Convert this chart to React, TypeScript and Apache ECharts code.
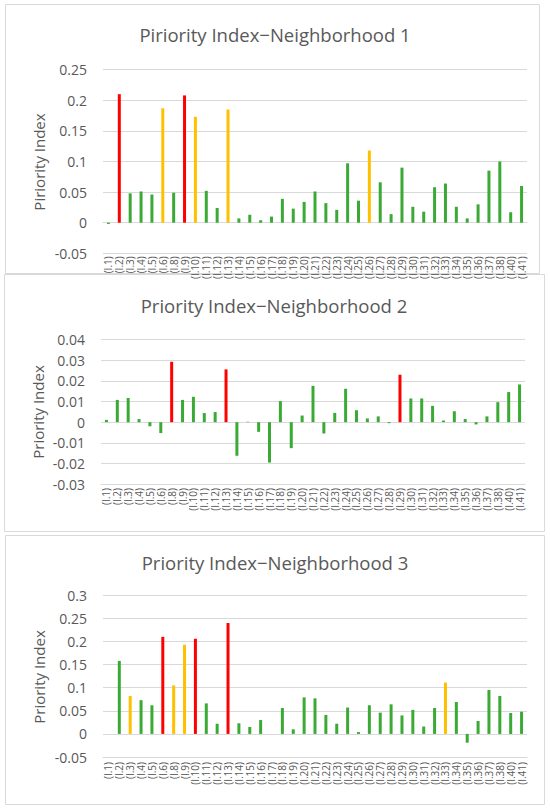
import React, { useEffect, useRef } from "react";
import * as echarts from "echarts";

const categories = [
  "(I.1)", "(I.2)", "(I.3)", "(I.4)", "(I.5)", "(I.6)", "(I.8)", "(I.9)", "(I.10)",
  "(I.11)", "(I.12)", "(I.13)", "(I.14)", "(I.15)", "(I.16)", "(I.17)", "(I.18)",
  "(I.19)", "(I.20)", "(I.21)", "(I.22)", "(I.23)", "(I.24)", "(I.25)", "(I.26)",
  "(I.27)", "(I.28)", "(I.29)", "(I.30)", "(I.31)", "(I.32)", "(I.33)", "(I.34)",
  "(I.35)", "(I.36)", "(I.37)", "(I.38)", "(I.40)", "(I.41)",
];

const values1 = [
  -0.002, 0.21, 0.048, 0.051, 0.046, 0.187, 0.049, 0.208, 0.173, 0.052, 0.024, 0.185,
  0.007, 0.013, 0.004, 0.01, 0.039, 0.023, 0.034, 0.051, 0.032, 0.021, 0.097, 0.036,
  0.118, 0.066, 0.014, 0.09, 0.026, 0.018, 0.058, 0.064, 0.026, 0.007, 0.03, 0.085,
  0.1, 0.017, 0.06,
];
const values2 = [
  0.0011, 0.0108, 0.0117, 0.0015, -0.002, -0.0053, 0.0293, 0.0108, 0.0123, 0.0044,
  0.0049, 0.0256, -0.0163, 0.0002, -0.0047, -0.0196, 0.0102, -0.0126, 0.0032, 0.0176,
  -0.0055, 0.0045, 0.0162, 0.0058, 0.0018, 0.0028, -0.0005, 0.023, 0.0115, 0.0115,
  0.0079, 0.0008, 0.0053, 0.0015, -0.0011, 0.0028, 0.0097, 0.0146, 0.0183,
];
const values3 = [
  0, 0.158, 0.082, 0.073, 0.062, 0.21, 0.105, 0.193, 0.206, 0.066, 0.022, 0.24, 0.023,
  0.015, 0.03, 0, 0.056, 0.01, 0.079, 0.077, 0.041, 0.022, 0.057, 0.004, 0.062, 0.046,
  0.064, 0.04, 0.052, 0.016, 0.056, 0.111, 0.069, -0.019, 0.028, 0.095, 0.082, 0.045,
  0.048,
];

const red1 = ["(I.2)", "(I.9)"];
const orange1 = ["(I.6)", "(I.10)", "(I.13)", "(I.26)"];
const red2 = ["(I.8)", "(I.13)", "(I.29)"];
const orange2: string[] = [];
const red3 = ["(I.6)", "(I.10)", "(I.13)"];
const orange3 = ["(I.3)", "(I.8)", "(I.9)", "(I.33)"];

const titles = [
  "Piriority Index\u2212Neighborhood 1",
  "Priority Index\u2212Neighborhood 2",
  "Priority Index\u2212Neighborhood 3",
];
const yNames = ["Piriority Index", "Priority Index", "Priority Index"];

const RED = "#FF0000";
const ORANGE = "#FFC000";
const GREEN = "#3AAA35";
const TEXT = "#595959";
const GRID = "#D9D9D9";
const FONT = "Open Sans";

function colored(values: number[], reds: string[], oranges: string[]) {
  return values.map((v, i) => {
    const c = categories[i];
    const color = reds.includes(c) ? RED : oranges.includes(c) ? ORANGE : GREEN;
    return { value: v, itemStyle: { color } };
  });
}

export default function App() {
  const ref = useRef<HTMLDivElement>(null);
  useEffect(() => {
    if (!ref.current) return;
    const chart = echarts.init(ref.current, undefined, { renderer: "svg" });

    const panels = [
      { grid: { left: 103, top: 69.7, width: 424, height: 183.6 }, min: -0.05, max: 0.25, interval: 0.05, onZero: true, margin: 3, title: [275, 34], yName: [39, 162], border: [5.5, 4.5, 534, 269] },
      { grid: { left: 101, top: 339.7, width: 424, height: 144.3 }, min: -0.03, max: 0.04, interval: 0.01, onZero: false, margin: 4, title: [274, 305], yName: [38, 412], border: [4.5, 274.5, 540, 257] },
      { grid: { left: 103, top: 595.3, width: 424, height: 161.7 }, min: -0.05, max: 0.3, interval: 0.05, onZero: false, margin: 5, title: [275, 562.5], yName: [39, 677], border: [5.5, 535.5, 539, 269] },
    ];
    const dataSets = [
      colored(values1, red1, orange1),
      colored(values2, red2, orange2),
      colored(values3, red3, orange3),
    ];

    const graphics: any[] = [];
    panels.forEach((p, i) => {
      graphics.push({
        type: "rect",
        shape: { x: p.border[0], y: p.border[1], width: p.border[2], height: p.border[3] },
        style: { fill: "none", stroke: GRID, lineWidth: 1 },
        silent: true,
        z: -1,
      });
      graphics.push({
        type: "text",
        x: p.title[0],
        y: p.title[1],
        style: {
          text: titles[i],
          fill: TEXT,
          font: `18.5px "${FONT}"`,
          textAlign: "center",
          textVerticalAlign: "middle",
        },
      });
      graphics.push({
        type: "text",
        x: p.yName[0],
        y: p.yName[1],
        rotation: Math.PI / 2,
        style: {
          text: yNames[i],
          fill: TEXT,
          font: `15px "${FONT}"`,
          textAlign: "center",
          textVerticalAlign: "middle",
        },
      });
    });

    chart.setOption({
      animation: false,
      backgroundColor: "#ffffff",
      textStyle: { fontFamily: FONT },
      grid: panels.map((p) => ({ ...p.grid, containLabel: false })),
      xAxis: panels.map((p, i) => ({
        type: "category",
        gridIndex: i,
        data: categories,
        axisLine: { show: true, onZero: p.onZero, lineStyle: { color: GRID, width: 1 } },
        axisTick: { show: false },
        axisLabel: {
          rotate: 90,
          interval: 0,
          margin: p.margin,
          color: TEXT,
          fontSize: 10,
          fontFamily: FONT,
        },
        splitLine: { show: false },
      })),
      yAxis: panels.map((p, i) => ({
        type: "value",
        gridIndex: i,
        min: p.min,
        max: p.max,
        interval: p.interval,
        axisLine: { show: false },
        axisTick: { show: false },
        axisLabel: {
          color: TEXT,
          fontSize: 14,
          fontFamily: FONT,
          margin: 16,
          formatter: (v: number) => String(parseFloat(v.toFixed(4))),
        },
        splitLine: { show: true, lineStyle: { color: GRID, width: 1 } },
      })),
      series: dataSets.map((d, i) => ({
        type: "bar",
        xAxisIndex: i,
        yAxisIndex: i,
        data: d,
        barWidth: 3,
      })),
      graphic: graphics,
    });
    return () => chart.dispose();
  }, []);
  return (
    <div
      ref={ref}
      style={{ position: "absolute", left: 0, top: 0, width: 550, height: 810, background: "#fff" }}
    />
  );
}
